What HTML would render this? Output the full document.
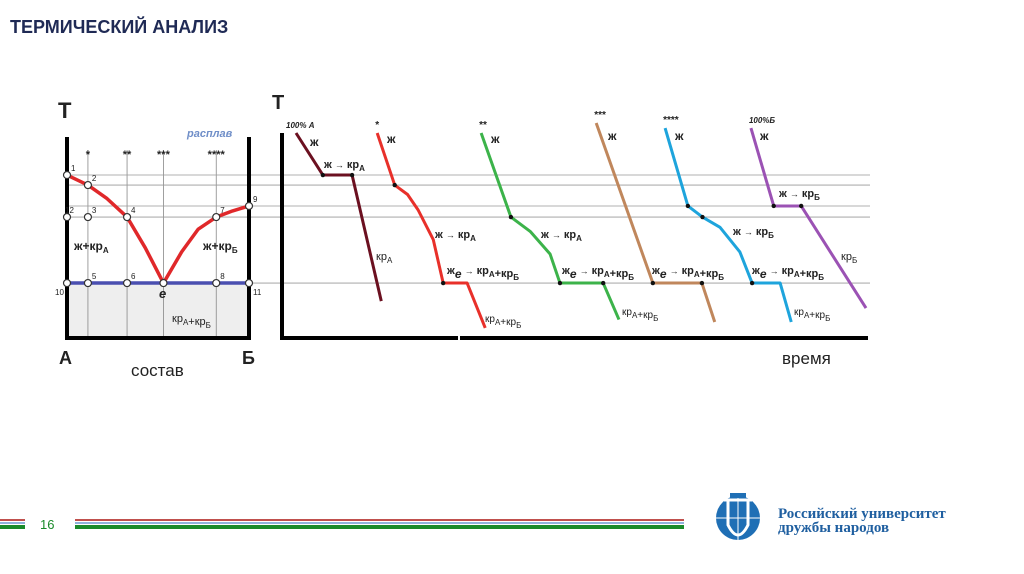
<!DOCTYPE html>
<html><head><meta charset="utf-8">
<style>
body{margin:0;width:1024px;height:574px;background:#fff;overflow:hidden;font-family:"Liberation Sans",sans-serif;}
svg{position:absolute;left:0;top:0}
</style></head>
<body>
<svg width="1024" height="574" viewBox="0 0 1024 574">
<text x="10" y="33" font-size="18" font-weight="bold" fill="#1f2a55">ТЕРМИЧЕСКИЙ АНАЛИЗ</text>
<g id="phase"></g>
<g id="cool"></g>
<g>
<rect x="0" y="519" width="25" height="2" fill="#c0504d"/><rect x="0" y="522" width="25" height="2" fill="#8fb3dc"/><rect x="0" y="525" width="25" height="4" fill="#1a8a2a"/>
<rect x="75" y="519" width="609" height="2" fill="#c0504d"/><rect x="75" y="522" width="609" height="2" fill="#8fb3dc"/><rect x="75" y="525" width="609" height="4" fill="#1a8a2a"/>
<text x="40" y="529" font-size="13" fill="#1a8a2a">16</text>
<g>
<circle cx="738" cy="518" r="22" fill="#1f6fb5"/>
<path d="M724 500 L752 500 M728 500 L728 525 Q738 545 748 525 L748 500" stroke="#fff" stroke-width="3" fill="none"/>
<path d="M716 518 H760 M738 496 V540" stroke="#fff" stroke-width="1"/>
<rect x="730" y="493" width="16" height="5" fill="#1f6fb5"/>
</g>
<text x="778" y="518" font-family="Liberation Serif,serif" font-weight="bold" font-size="15" fill="#1f5fa0">Российский университет</text>
<text x="778" y="532" font-family="Liberation Serif,serif" font-weight="bold" font-size="15" fill="#1f5fa0">дружбы народов</text>
</g>
</svg>
<script>
// ---- data ----
const tempLevels=[79.5,74.6,64.4,59,26.8];
const compMarks=[11.5,33,53,82];
const compLabels=["*","**","***","****"];
const liquidusA=[[0,79.5],[11.5,74.6],[22,68],[33,59],[43,44],[53,26.8]];
const liquidusB=[[53,26.8],[63,42],[72,53],[82,59],[91,62],[100,64.4]];
const eutecticT=26.8;
const curveNames=["100% А","*","**","***","****","100%Б"];
const curveColors=["#6b1020","#e8302a","#3cb34a","#c0875c","#1ea4dc","#9b52b4"];
const curvePts=[
 [[2.4,100],[7.0,79.5],[12.0,79.5],[17.0,18.0]],
 [[16.3,100],[19.3,74.6],[21.5,70],[23.3,62.5],[25.9,48],[27.6,26.8],[31.7,26.8],[34.8,4.9]],
 [[34.1,100],[39.2,59],[42.5,52],[45.9,41],[47.6,26.8],[55.0,26.8],[57.7,9.0]],
 [[53.8,104.9],[63.5,26.8],[71.9,26.8],[74.1,7.8]],
 [[65.6,102.4],[69.5,64.4],[72,59],[75.0,54],[78.4,42],[80.5,26.8],[85.3,26.8],[87.2,7.8]],
 [[80.3,102.4],[84.2,64.4],[88.9,64.4],[100,14.6]]
];
const curveDots=[[1,2],[1,6],[1,4],[1,2],[1,5],[1,2]];
// ---- scales ----
const yT=t=>338-t*2.05;
const xC=c=>67+c*1.82;
const xt=t=>282+t*5.84;
const NS="http://www.w3.org/2000/svg";
function mk(p,tag,a,txt){const e=document.createElementNS(NS,tag);for(const k in a)e.setAttribute(k,a[k]);if(txt!=null)e.textContent=txt;p.appendChild(e);return e;}
const P=document.getElementById('phase'),C=document.getElementById('cool');
// phase diagram
let r=mk(P,'rect',{x:67,y:yT(eutecticT),width:182,height:338-yT(eutecticT),fill:'#eeeeee'});

compMarks.forEach((c,i)=>{let l=mk(P,'line',{x1:xC(c),x2:xC(c),y1:150,y2:338,stroke:'#888','stroke-width':0.8});

let t=mk(P,'text',{x:xC(c),y:158,'font-size':11,'font-weight':'bold','text-anchor':'middle',fill:'#222'},compLabels[i]);
});
tempLevels.forEach(T=>{let l=mk(P,'line',{x1:67,x2:870,y1:yT(T),y2:yT(T),stroke:'#999','stroke-width':0.8});
});
let eu=mk(P,'line',{x1:67,x2:249,y1:yT(eutecticT),y2:yT(eutecticT),stroke:'#4a4fb0','stroke-width':3.5});

[liquidusA,liquidusB].forEach(L=>{let p=mk(P,'polyline',{points:L.map(d=>xC(d[0])+','+yT(d[1])).join(' '),fill:'none',stroke:'#e0282a','stroke-width':3.5,'stroke-linejoin':'round'});
});
let ax=mk(P,'path',{d:'M67 137 V338 H249 V137',fill:'none',stroke:'#000','stroke-width':4});

const pts=[[0,79.5,'1'],[11.5,74.6,'2'],[11.5,59,'3'],[33,59,'4'],[11.5,26.8,'5'],[33,26.8,'6'],[82,59,'7'],[82,26.8,'8'],[100,64.4,'9'],[0,26.8,'10'],[100,26.8,'11'],[0,59,'12'],[53,26.8,'']];
pts.forEach(p=>{let c=mk(P,'circle',{cx:xC(p[0]),cy:yT(p[1]),r:3.5,fill:'#fff',stroke:'#333','stroke-width':1.2});

if(p[2]){let dx=p[2]=='10'?-12:p[2]=='12'?-2:4;let dy=p[2]=='10'||p[2]=='11'?12:-4;
let t=mk(P,'text',{x:xC(p[0])+dx,y:yT(p[1])+dy,'font-size':8,fill:'#222'},p[2]);
}});
function lab(par,x,y,s,txt,name,extra){let t=mk(par,'text',Object.assign({x:x,y:y,'font-size':s,'font-weight':'bold',fill:'#222'},extra||{}),null);t.innerHTML=txt;
return t;}
const sub=s=>'<tspan font-size="8" dy="3">'+s+'</tspan><tspan dy="-3"></tspan>';
lab(P,58,118,22,'T','phase-t-axis-title');
lab(P,187,137,11,'расплав','melt-label',{fill:'#6f8ec8','font-style':'italic'});
lab(P,74,250,12,'ж+кр'+sub('А'),'liquid-plus-a-label');
lab(P,203,250,12,'ж+кр'+sub('Б'),'liquid-plus-b-label');
lab(P,159,298,13,'e','eutectic-point-label',{'font-style':'italic'});
lab(P,172,322,11,'кр'+sub('А')+'+кр'+sub('Б'),'solid-a-b-label',{'font-weight':'normal'});
lab(P,59,364,18,'А','component-a-label');
lab(P,242,364,18,'Б','component-b-label');
lab(P,131,376,17,'состав','composition-axis-title',{'font-weight':'normal'});
// cooling curves
let ax2=mk(C,'path',{d:'M282 133 V338 H868',fill:'none',stroke:'#000','stroke-width':4});

mk(C,'rect',{x:458,y:335,width:2,height:6,fill:'#fff'});
lab(C,272,109,20,'T','cooling-t-axis-title');
lab(C,782,364,17,'время','time-axis-title',{'font-weight':'normal'});
curvePts.forEach((pts,i)=>{let p=mk(C,'polyline',{points:pts.map(d=>xt(d[0])+','+yT(d[1])).join(' '),fill:'none',stroke:curveColors[i],'stroke-width':3,'stroke-linejoin':'round'});

curveDots[i].forEach(k=>{});
pts.slice(1,-1).forEach((d,j)=>{if([1,2,3,4,5].includes(j+1)&&(d[1]==tempLevels[0]||d[1]==tempLevels[1]||d[1]==tempLevels[2]||d[1]==tempLevels[3]||d[1]==tempLevels[4])){let c=mk(C,'circle',{cx:xt(d[0]),cy:yT(d[1]),r:2.2,fill:'#111'});
}});
let t=mk(C,'text',{x:xt(pts[0][0])-(i==0?10:2),y:yT(pts[0][1])-5,'font-size':i==0||i==5?8:10,'font-style':i==0||i==5?'italic':'normal','font-weight':'bold',fill:'#222'},curveNames[i]);
});
const L=[[310,146,'ж'],[387,143,'ж'],[491,143,'ж'],[608,140,'ж'],[675,140,'ж'],[760,140,'ж']];
L.forEach(l=>lab(C,l[0],l[1],12,l[2],'liquid-label'));
const A=' <tspan font-size="9">→</tspan> ';
lab(C,324,168,11,'ж'+A+'кр'+sub('А'),'transform-a-label-0');
lab(C,435,238,11,'ж'+A+'кр'+sub('А'),'transform-a-label-1');
lab(C,541,238,11,'ж'+A+'кр'+sub('А'),'transform-a-label-2');
lab(C,733,235,11,'ж'+A+'кр'+sub('Б'),'transform-b-label-0');
lab(C,779,197,11,'ж'+A+'кр'+sub('Б'),'transform-b-label-1');
lab(C,376,260,11,'кр'+sub('А'),'solid-a-label',{'font-weight':'normal'});
lab(C,841,260,11,'кр'+sub('Б'),'solid-b-label',{'font-weight':'normal'});
[[447,274],[562,274],[652,274],[752,274]].forEach(p=>lab(C,p[0],p[1],11,'ж<tspan font-size="12" font-style="italic" dy="4">e</tspan><tspan dy="-4">'+A+'кр</tspan>'+sub('А')+'+кр'+sub('Б'),'eutectic-transform-label'));
[[485,322],[622,315],[794,315]].forEach(p=>lab(C,p[0],p[1],10,'кр'+sub('А')+'+кр'+sub('Б'),'solid-ab-label',{'font-weight':'normal'}));
</script>
</body></html>
